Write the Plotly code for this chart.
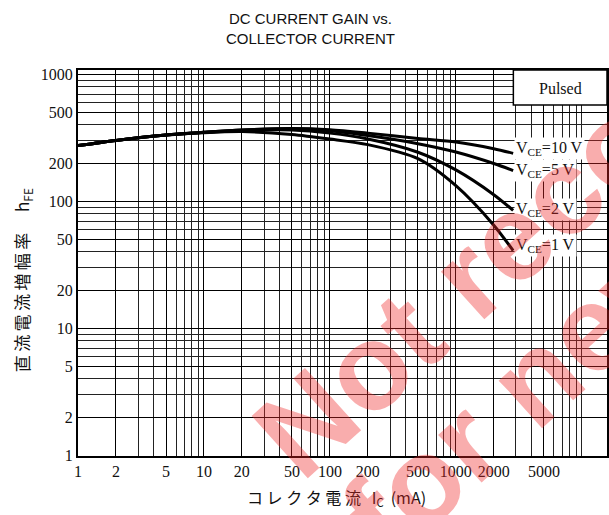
import plotly.graph_objects as go

# ---- data ----
ic_ma = [1, 2, 5, 10, 20, 50, 100, 200, 500, 1000, 2000, 2850]
hfe_10v = [275, 302, 333, 350, 365, 375, 367, 345, 313, 294, 260, 239]
hfe_5v = [275, 302, 333, 350, 365, 373, 360, 330, 285, 245, 199, 175]
hfe_2v = [275, 302, 333, 350, 362, 365, 345, 310, 244, 177, 113, 85]
hfe_1v = [275, 302, 333, 348, 355, 337, 310, 280, 217, 133, 65, 41]

series_names = ["V<sub>CE</sub>=10 V", "V<sub>CE</sub>=5 V",
                "V<sub>CE</sub>=2 V", "V<sub>CE</sub>=1 V"]
series_vals = [hfe_10v, hfe_5v, hfe_2v, hfe_1v]

x_ticks = [1, 2, 5, 10, 20, 50, 100, 200, 500, 1000, 2000, 5000]
y_ticks = [1, 2, 5, 10, 20, 50, 100, 200, 500, 1000]

W, H = 609, 515
L, R, T, B = 78, 0, 70, 59
pw, ph = W - L - R, H - T - B

def px(xp):
    return (xp - L) / pw

def py(yp):
    return (H - B - yp) / ph

fig = go.Figure()
for name, vals in zip(series_names, series_vals):
    fig.add_trace(go.Scatter(x=ic_ma, y=vals, mode="lines", name=name,
                             line=dict(color="black", width=3, shape="spline", smoothing=0.8),
                             showlegend=False, hoverinfo="skip"))

tickfont = dict(family="Liberation Serif", size=16, color="#111")
fig.update_xaxes(type="log", range=[0, 4.2], tickvals=x_ticks,
                 ticktext=[str(v) for v in x_ticks], tickfont=tickfont,
                 showgrid=True, gridcolor="black", gridwidth=1.4,
                 minor=dict(showgrid=True, gridcolor="#222", gridwidth=1, dtick="D1"),
                 showline=True, linecolor="black", linewidth=2, mirror=True,
                 ticks="", zeroline=False)
fig.update_yaxes(type="log", range=[-0.005, 3.035], tickvals=y_ticks,
                 ticktext=[str(v) for v in y_ticks], tickfont=tickfont,
                 showgrid=True, gridcolor="black", gridwidth=1.4,
                 minor=dict(showgrid=True, gridcolor="#222", gridwidth=1, dtick="D1"),
                 showline=True, linecolor="black", linewidth=2, mirror=True,
                 ticks="", zeroline=False)

ann = []
# title
ann.append(dict(text="DC CURRENT GAIN vs.<br>COLLECTOR CURRENT", xref="paper", yref="paper",
                x=px(311), y=py(28), showarrow=False, xanchor="center", yanchor="middle",
                font=dict(family="Liberation Sans", size=15, color="#111")))
# axis titles
ann.append(dict(text="コ レ ク タ 電 流   I<sub>C</sub>  (mA)", xref="paper", yref="paper",
                x=px(337), y=py(497), showarrow=False, xanchor="center", yanchor="middle",
                font=dict(family="Noto Sans CJK JP", size=16, color="#111")))
ann.append(dict(text="直\u2009流\u2009電\u2009流\u2009増\u2009幅\u2009率\u2003 h<sub>FE</sub>",
                xref="paper", yref="paper",
                x=px(22), y=py(280), showarrow=False, xanchor="center", yanchor="middle",
                textangle=-90,
                font=dict(family="Noto Sans CJK JP", size=17, color="#111")))
# series labels
label_y = [148, 170, 210, 246]
for name, yy in zip(series_names, label_y):
    ann.append(dict(text=name, xref="paper", yref="paper", x=px(516), y=py(yy),
                    showarrow=False, xanchor="left", yanchor="middle",
                    bgcolor="white", borderpad=1,
                    font=dict(family="Liberation Serif", size=16, color="#111")))
# Pulsed
ann.append(dict(text="Pulsed", xref="paper", yref="paper", x=px(562), y=py(88),
                showarrow=False, xanchor="center", yanchor="middle",
                font=dict(family="Liberation Serif", size=16, color="#111")))
# watermark
wm_font = dict(family="Liberation Sans", size=122, color="rgba(240,40,40,0.38)")
ann.append(dict(text="<b>Not recommended</b>", xref="paper", yref="paper",
                x=px(674), y=py(94), showarrow=False, xanchor="center", yanchor="middle",
                textangle=-42, font=wm_font))
ann.append(dict(text="<b>for new design</b>", xref="paper", yref="paper",
                x=px(684), y=py(246), showarrow=False, xanchor="center", yanchor="middle",
                textangle=-42, font=wm_font))

shapes = [dict(type="rect", xref="paper", yref="paper", x0=px(515), x1=1.0,
               y0=py(105), y1=1.0, fillcolor="white", line=dict(color="black", width=1.5),
               layer="above")]

fig.update_layout(width=W, height=H, margin=dict(l=L, r=R, t=T, b=B),
                  paper_bgcolor="white", plot_bgcolor="white",
                  annotations=ann, shapes=shapes)

fig.write_html("out.html")
